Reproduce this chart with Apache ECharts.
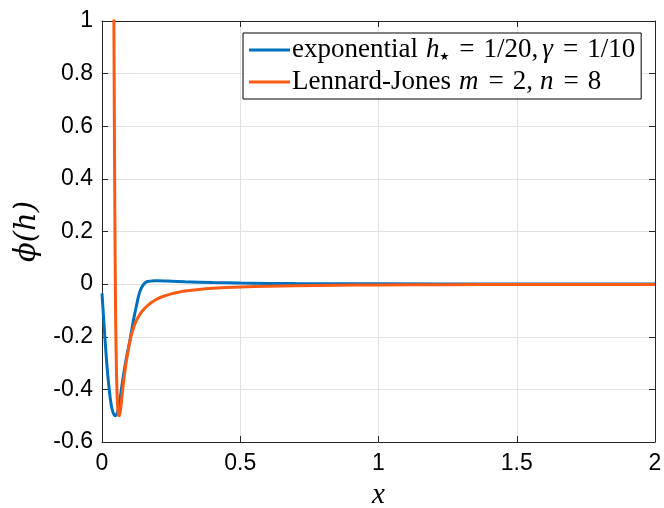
<!DOCTYPE html>
<html>
<head>
<meta charset="utf-8">
<script src="https://cdn.jsdelivr.net/npm/echarts@6/dist/echarts.min.js"></script>
<style>html,body{margin:0;padding:0;background:#fff}#c{width:664px;height:508px}</style>
</head>
<body>
<div id="c"></div>
<script>
// Exponential potential
const expX = [0, 0.005, 0.01, 0.015, 0.02, 0.025, 0.03, 0.035, 0.04, 0.045, 0.05, 0.055, 0.06, 0.065, 0.07, 0.075, 0.08, 0.085, 0.09, 0.095, 0.1, 0.105, 0.11, 0.115, 0.12, 0.125, 0.13, 0.135, 0.14, 0.145, 0.15, 0.155, 0.16, 0.165, 0.17, 0.18, 0.19, 0.2, 0.25, 0.3, 0.4, 0.5, 0.7, 1.0, 1.5, 2.0];
const expY = [-0.035, -0.115, -0.195, -0.27, -0.335, -0.39, -0.435, -0.468, -0.488, -0.498, -0.5, -0.49, -0.47, -0.44, -0.4, -0.365, -0.33, -0.3, -0.27, -0.245, -0.22, -0.19, -0.16, -0.13, -0.105, -0.08, -0.055, -0.035, -0.02, -0.01, -0.002, 0.004, 0.008, 0.01, 0.011, 0.012, 0.0125, 0.0125, 0.011, 0.009, 0.006, 0.004, 0.002, 0.001, 0.0005, 0.0002];
// Lennard-Jones potential
const ljX = [0.0425, 0.043, 0.044, 0.045, 0.046, 0.047, 0.048, 0.049, 0.05, 0.052, 0.054, 0.056, 0.058, 0.06, 0.062, 0.064, 0.066, 0.068, 0.07, 0.075, 0.08, 0.085, 0.09, 0.095, 0.1, 0.105, 0.11, 0.115, 0.12, 0.13, 0.14, 0.15, 0.16, 0.17, 0.18, 0.19, 0.2, 0.22, 0.25, 0.28, 0.3, 0.35, 0.4, 0.5, 0.6, 0.7, 0.85, 1.0, 1.25, 1.5, 2.0];
const ljY = [1.1, 1.0, 0.78, 0.56, 0.36, 0.18, 0.03, -0.09, -0.18, -0.31, -0.4, -0.455, -0.485, -0.498, -0.5, -0.495, -0.485, -0.47, -0.45, -0.4, -0.355, -0.315, -0.28, -0.25, -0.222, -0.198, -0.18, -0.163, -0.148, -0.127, -0.11, -0.097, -0.086, -0.077, -0.069, -0.062, -0.056, -0.047, -0.037, -0.03, -0.026, -0.02, -0.016, -0.011, -0.008, -0.006, -0.004, -0.003, -0.002, -0.0015, -0.001];
const xTicks = [0, 0.5, 1, 1.5, 2];
const yTicks = [-0.6, -0.4, -0.2, 0, 0.2, 0.4, 0.6, 0.8, 1];

const zip = (xs, ys) => xs.map((x, i) => [x, ys[i]]);
const axisCol = '#262626';
const sansFont = 'Liberation Sans';
const serif = 'Liberation Serif';

const chart = echarts.init(document.getElementById('c'), null, {renderer: 'canvas'});
const baseX = {
  type: 'value', min: xTicks[0], max: xTicks[xTicks.length - 1], interval: 0.5,
  axisLine: {show: true, onZero: false, lineStyle: {color: axisCol, width: 1}},
  axisTick: {show: true, inside: true, length: 6, lineStyle: {color: axisCol}},
  splitLine: {show: false}
};
const baseY = {
  type: 'value', min: yTicks[0], max: yTicks[yTicks.length - 1], interval: 0.2,
  axisLine: {show: true, onZero: false, lineStyle: {color: axisCol, width: 1}},
  axisTick: {show: true, inside: true, length: 6, lineStyle: {color: axisCol}},
  splitLine: {show: false}
};
const FS = 27;
const tok = (extra) => Object.assign({fontFamily: serif, fontSize: FS, color: '#000', lineHeight: 30}, extra);
chart.setOption({
  animation: false,
  backgroundColor: '#fff',
  grid: {left: 102, right: 9, top: 21, bottom: 66, containLabel: false, outerBoundsMode: 'none'},
  xAxis: [
    Object.assign({}, baseX, {
      position: 'bottom',
      name: 'x', nameLocation: 'middle', nameGap: 39,
      nameTextStyle: {fontFamily: serif, fontStyle: 'italic', fontSize: 29, color: '#000'},
      axisLabel: {show: true, fontFamily: sansFont, fontSize: 23, color: '#000', margin: 10,
        formatter: v => String(v)},
      splitLine: {show: true, lineStyle: {color: '#e1e1e1', width: 1}}
    }),
    Object.assign({}, baseX, {position: 'top', axisLabel: {show: false}})
  ],
  yAxis: [
    Object.assign({}, baseY, {
      position: 'left',
      name: 'ϕ(h)', nameLocation: 'middle', nameGap: 60, nameRotate: 90,
      nameTextStyle: {fontFamily: 'DejaVu Serif', fontStyle: 'italic', fontSize: 29, color: '#000'},
      axisLabel: {show: true, fontFamily: sansFont, fontSize: 23, color: '#000', margin: 9,
        formatter: v => String(Math.round(v * 10) / 10)},
      splitLine: {show: true, lineStyle: {color: '#e1e1e1', width: 1}}
    }),
    Object.assign({}, baseY, {position: 'right', axisLabel: {show: false}})
  ],
  legend: {
    left: 243, top: 33,
    orient: 'vertical',
    backgroundColor: '#fff',
    borderColor: '#000', borderWidth: 1,
    padding: [2, 6, 2, 6],
    itemGap: 2,
    itemWidth: 41, itemHeight: 3,
    icon: 'rect',
    textStyle: {
      fontFamily: serif, fontSize: FS, color: '#000', padding: [0, 0, 0, -3], lineHeight: 30,
      rich: {
        r: tok({}),
        i: tok({fontStyle: 'italic', padding: [0, 0, 0, 8]}),
        g: tok({fontStyle: 'italic', padding: [0, 0, 0, 4]}),
        n: tok({fontStyle: 'italic', padding: [0, 0, 0, 7]}),
        q: tok({padding: [0, 9, 0, 10]}),
        s: {fontFamily: 'DejaVu Sans', fontSize: 11, color: '#000', lineHeight: 30, padding: [14, 0, 0, 0]}
      }
    },
    formatter: name => name === 'exp'
      ? '{r|exponential}{i|h}{s|★}{q|=}{r|1/20,}{g|γ}{q|=}{r|1/10}'
      : '{r|Lennard-Jones}{i|m}{q|=}{r|2,}{n|n}{q|=}{r|8}',
    data: ['exp', 'lj']
  },
  series: [
    {name: 'exp', type: 'line', data: zip(expX, expY), showSymbol: false, smooth: 0.3,
      clip: true, lineStyle: {color: '#0072BD', width: 3}, itemStyle: {color: '#0072BD'}},
    {name: 'lj', type: 'line', data: zip(ljX, ljY), showSymbol: false, smooth: 0.3,
      clip: true, lineStyle: {color: '#FA5A14', width: 3}, itemStyle: {color: '#FA5A14'}}
  ]
});
</script>
</body>
</html>
